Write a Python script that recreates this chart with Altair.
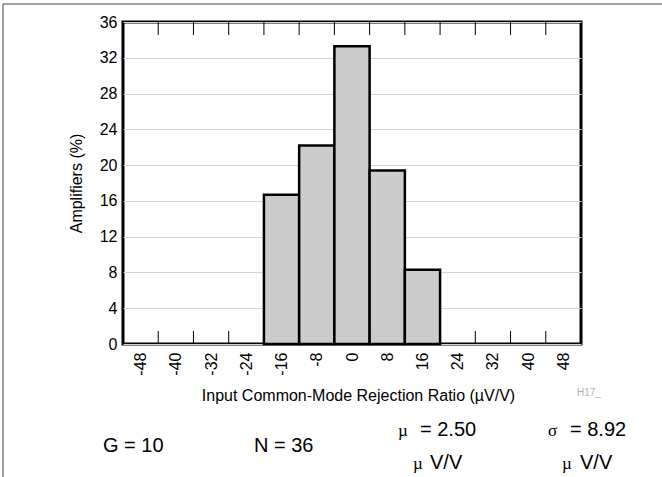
import altair as alt
import pandas as pd

# ---- data ----
bin_centers = [-48, -40, -32, -24, -16, -8, 0, 8, 16, 24, 32, 40, 48]
percent = [0, 0, 0, 0, 16.7, 22.2, 33.3, 19.4, 8.3, 0, 0, 0, 0]
bin_width = 8
y_ticks = [0, 4, 8, 12, 16, 20, 24, 28, 32, 36]
boundaries = [c + bin_width / 2 for c in bin_centers[:-1]]

x_title = "Input Common-Mode Rejection Ratio (\u00b5V/V)"
y_title = "Amplifiers (%)"

FONT = "Liberation Sans"
SERIF = "Liberation Serif"

hist = pd.DataFrame({"center": bin_centers, "pct": percent})
hist = hist[hist["pct"] > 0]
bounds = pd.DataFrame({"b": boundaries})
one = pd.DataFrame({"k": [0]})

xscale = alt.Scale(domain=[-52, 52], nice=False, zero=False)
yscale = alt.Scale(domain=[0, 36], nice=False)

x_axis = alt.Axis(
    values=bin_centers,
    labelExpr="'' + datum.value",
    labelAngle=270,
    labelFontSize=16,
    labelPadding=8,
    labelColor="black",
    labelFont=FONT,
    labelOverlap=False,
    labelBound=False,
    labelFlush=False,
    ticks=False,
    domain=False,
    grid=False,
    title=x_title,
    titleFont=FONT,
    titleFontSize=16,
    titleFontWeight="normal",
    titleColor="black",
    titleX=235,
    titleY=56,
    titleAlign="center",
    titleBaseline="alphabetic",
)

bars = (
    alt.Chart(hist)
    .transform_calculate(lo=f"datum.center - {bin_width}/2", hi=f"datum.center + {bin_width}/2")
    .mark_bar(fill="#cccccc", stroke="black", strokeWidth=2.5)
    .encode(
        x=alt.X("lo:Q", scale=xscale, axis=x_axis),
        x2="hi:Q",
        y=alt.Y(
            "pct:Q",
            scale=yscale,
            axis=alt.Axis(
                values=y_ticks,
                labelFontSize=16,
                labelPadding=6,
                labelColor="black",
                labelFont=FONT,
                labelOverlap=False,
                labelFlush=False,
                ticks=False,
                domain=False,
                grid=True,
                gridColor="#d4d4d4",
                gridWidth=1,
                title=y_title,
                titleFont=FONT,
                titleFontSize=16,
                titleFontWeight="normal",
                titleColor="black",
                titleX=-47,
                titleY=161,
                titleAngle=270,
                titleAlign="center",
                titleBaseline="middle",
            ),
        ),
        y2=alt.value(322),
    )
)

ticks_bottom = (
    alt.Chart(bounds)
    .mark_rule(color="black", strokeWidth=1)
    .encode(x=alt.X("b:Q", scale=xscale, axis=x_axis), y=alt.value(322), y2=alt.value(309))
)
ticks_top = (
    alt.Chart(bounds)
    .mark_rule(color="black", strokeWidth=1)
    .encode(x=alt.X("b:Q", scale=xscale, axis=x_axis), y=alt.value(0), y2=alt.value(13))
)

# outer frame lines (page border)
frame_left = alt.Chart(one).mark_rule(color="#808080", strokeWidth=1.5).encode(
    x=alt.value(-120), y=alt.value(-18), y2=alt.value(470)
)
frame_top = alt.Chart(one).mark_rule(color="#808080", strokeWidth=1.5).encode(
    x=alt.value(-120), x2=alt.value(560), y=alt.value(-18)
)


def txt(s, x, y, size=20, font=FONT, color="black"):
    return alt.Chart(one).mark_text(
        text=s, font=font, fontSize=size, color=color, align="left", baseline="alphabetic"
    ).encode(x=alt.value(x), y=alt.value(y))


notes = [
    txt("H17_", 454, 374, size=10, color="#b0b0b0"),
    txt("G = 10", -20, 430),
    txt("N = 36", 131, 430),
    txt("\u00b5", 275, 414, size=17, font=SERIF),
    txt("= 2.50", 297, 414),
    txt("\u00b5", 290, 447, size=17, font=SERIF),
    txt("V/V", 307, 447),
    txt("\u03c3", 425, 414, size=17, font=SERIF),
    txt("= 8.92", 447, 414),
    txt("\u00b5", 439, 447, size=17, font=SERIF),
    txt("V/V", 457, 447),
]

chart = (
    alt.layer(bars, ticks_bottom, ticks_top, frame_left, frame_top, *notes)
    .properties(
        width=458,
        height=322,
        autosize="none",
        padding={"left": 123, "top": 22, "right": 81, "bottom": 133},
        background="white",
    )
    .configure_view(stroke="black", strokeWidth=3)
    .configure_axis(labelOverlap=False)
)

chart.save("out.html", embed_options={"renderer": "svg", "actions": False})
